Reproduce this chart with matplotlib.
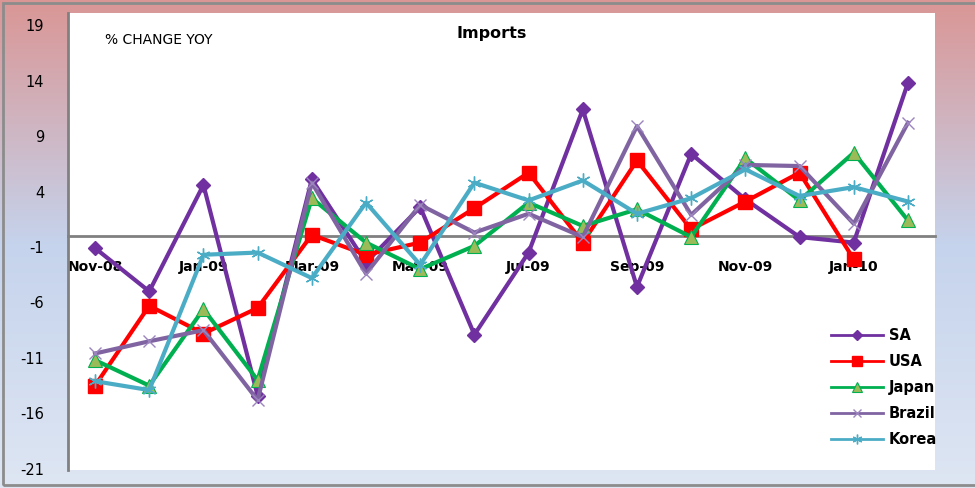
import numpy as np
import matplotlib
matplotlib.use('Agg')
import matplotlib.pyplot as plt
from matplotlib.colors import LinearSegmentedColormap
from matplotlib.patches import Rectangle


# ==========================================================
# DONNÉES
# ==========================================================

months = ['Nov-08', 'Dec-08', 'Jan-09', 'Feb-09', 'Mar-09', 'Apr-09', 'May-09', 'Jun-09',
          'Jul-09', 'Aug-09', 'Sep-09', 'Oct-09', 'Nov-09', 'Dec-09', 'Jan-10', 'Feb-10']

sa = [-1.1, -5.0, 4.6, -14.4, 5.1, -2.4, 2.6, -8.9, -1.5, 11.4, -4.6, 7.4, 3.3, -0.1, -0.6, 13.8]
usa = [-13.5, -6.3, -8.8, -6.5, 0.1, -1.7, -0.6, 2.5, 5.7, -0.6, 6.8, 0.6, 3.1, 5.7, -2.1]
japan = [-11.2, -13.5, -6.6, -13.0, 3.4, -0.6, -3.0, -0.9, 3.0, 0.9, 2.4, -0.1, 7.0, 3.2, 7.5, 1.4]
brazil = [-10.6, -9.5, -8.5, -14.8, 4.8, -3.4, 2.8, 0.3, 2.0, -0.1, 9.9, 1.9, 6.4, 6.3, 1.1, 10.2]
korea = [-13.1, -13.9, -1.7, -1.5, -3.8, 3.0, -2.6, 4.8, 3.2, 5.0, 2.0, 3.4, 6.0, 3.6, 4.4, 3.1]

y_ticks = [-21, -16, -11, -6, -1, 4, 9, 14, 19]


def main():

    # ==========================================================
    # FIGURE + FOND DÉGRADÉ
    # ==========================================================

    fig = plt.figure(figsize=(9.75, 4.88), dpi=100)

    bg = fig.add_axes([0, 0, 1, 1], zorder=0)
    cmap = LinearSegmentedColormap.from_list(
        'fond', [(0.0, '#DA9695'), (0.5, '#C5D3EC'), (1.0, '#DEE6F3')])
    bg.imshow(np.linspace(0, 1, 256).reshape(-1, 1), aspect='auto', cmap=cmap,
              extent=[0, 1, 0, 1], origin='upper')
    bg.set_xlim(0, 1)
    bg.set_ylim(0, 1)
    bg.axis('off')
    bg.add_patch(Rectangle((0.003, 0.006), 1.1, 0.988, transform=fig.transFigure,
                           fill=False, edgecolor='#8C8C8C', linewidth=2))

    # ==========================================================
    # ZONE DE TRACÉ
    # ==========================================================

    ax = fig.add_axes([0.0697, 0.037, 0.8893, 0.9364], zorder=1)
    ax.set_facecolor('white')

    x = np.arange(len(months))

    ax.plot(x, sa, '-D', color='#7030A0', linewidth=3, markersize=7, label='SA')
    ax.plot(x[:len(usa)], usa, '-s', color='#FF0000', linewidth=3, markersize=10, label='USA')
    ax.plot(x, japan, '-^', color='#00B050', markerfacecolor='#9BBB59',
            markeredgecolor='#00B050', markeredgewidth=0.8, linewidth=3, markersize=10, label='Japan')
    ax.plot(x, brazil, '-x', color='#8064A2', markeredgecolor='#9C85BE', markeredgewidth=1,
            linewidth=3, markersize=9, label='Brazil')
    ax.plot(x, korea, '-', marker=(6, 2, 0), color='#4BACC6', markeredgecolor='#4BACC6',
            markeredgewidth=1, linewidth=3, markersize=10, label='Korea')

    ax.set_xlim(-0.5, 15.5)
    ax.set_ylim(-21.1, 20.1)

    # axe des catégories sur zéro
    ax.spines['bottom'].set_position(('data', 0))
    ax.spines['bottom'].set_color('#808080')
    ax.spines['bottom'].set_linewidth(2)
    ax.spines['bottom'].set_zorder(0.5)
    ax.spines['left'].set_color('#808080')
    ax.spines['left'].set_linewidth(2)
    ax.spines['top'].set_visible(False)
    ax.spines['right'].set_visible(False)

    ax.set_xticks(x[::2])
    ax.set_xticklabels(months[::2], fontsize=10, fontweight='bold')
    ax.tick_params(axis='x', length=0, pad=17)

    ax.set_yticks(y_ticks)
    ax.set_yticklabels([str(v) for v in y_ticks], fontsize=10.5)
    ax.tick_params(axis='y', length=0, pad=17)

    ax.text(0.489, 0.955, 'Imports', transform=ax.transAxes, ha='center', va='center',
            fontsize=11.5, fontweight='bold')
    ax.text(0.043, 0.94, '% CHANGE YOY', transform=ax.transAxes, ha='left', va='center',
            fontsize=10)

    leg = ax.legend(loc='upper left', bbox_to_anchor=(0.852, 0.327), bbox_transform=fig.transFigure,
                    frameon=False, handlelength=3.6, handletextpad=0.4,
                    labelspacing=0.75, borderpad=0, borderaxespad=0, markerscale=0.7,
                    prop={'weight': 'bold', 'size': 10.5})
    for line in leg.get_lines():
        line.set_linewidth(2)

    fig.savefig('out.png', dpi=100)


if __name__ == "__main__":
    main()
